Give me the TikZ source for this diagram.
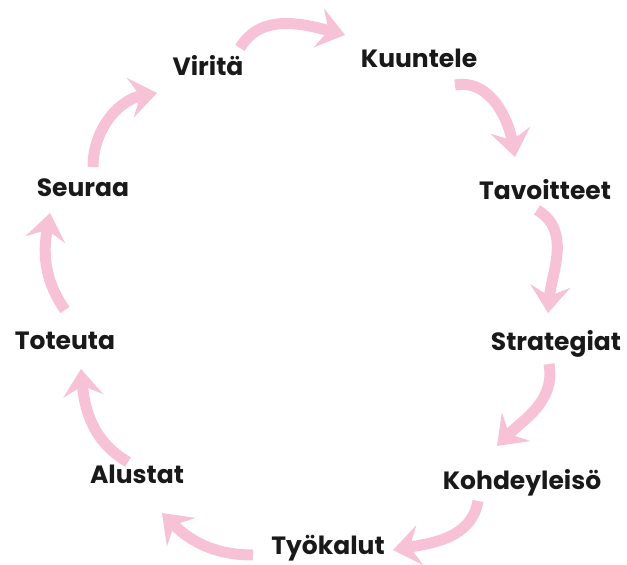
\documentclass[tikz,border=0pt]{standalone}
\usepackage{fontspec}
\setmainfont{Poppins}[BoldFont={* Bold}]
\usepackage{xcolor}
\usetikzlibrary{arrows.meta}
\definecolor{rosa}{RGB}{248,194,214}
\tikzset{lbl/.style={inner sep=0pt, font=\fontsize{25}{30}\selectfont\bfseries, text=black!90},
	arr/.style={rosa, line width=11pt, -{Stealth[length=27pt, width=40pt, inset=10pt]}}}

\begin{document}
\begin{tikzpicture}[x=1pt, y=1pt]
		\useasboundingbox (0,0) rectangle (627,565);
		\node[lbl] (vir) at (208,499) {Viritä};
		\node[lbl] (kuu) at (419,507) {Kuuntele};
		\node[lbl] (tav) at (545,375) {Tavoitteet};
		\node[lbl] (str) at (556,221) {Strategiat};
		\node[lbl] (koh) at (522,82) {Kohdeyleisö};
		\node[lbl] (tyo) at (328,17) {Työkalut};
		\node[lbl] (alu) at (137,91) {Alustat};
		\node[lbl] (tot) at (65,224) {Toteuta};
		\node[lbl] (seu) at (83,377) {Seuraa};
		% kierros myötäpäivään
		\draw[arr] ([shift={(32,18)}]vir.center) to[out=60, in=165] ([shift={(-74,23)}]kuu.center);
		\draw[arr] ([shift={(36,-27)}]kuu.center) to[out=10, in=100] ([shift={(-30,33)}]tav.center);
		\draw[arr] ([shift={(-8,-20)}]tav.center) to[out=-30, in=85] ([shift={(-8,31)}]str.center);
		\draw[arr] ([shift={(-7,-20)}]str.center) to[out=-80, in=45] ([shift={(-25,37)}]koh.center);
		\draw[arr] ([shift={(-44,-18)}]koh.center) to[out=-100, in=10] ([shift={(65,-2)}]tyo.center);
		\draw[arr] ([shift={(-75,-7)}]tyo.center) to[out=180, in=-45] ([shift={(25,-39)}]alu.center);
		\draw[arr] ([shift={(-9,12)}]alu.center) to[out=150, in=-85] ([shift={(16,-28)}]tot.center);
		\draw[arr] ([shift={(0,31)}]tot.center) to[out=125, in=-100] ([shift={(-33,-25)}]seu.center);
		\draw[arr] ([shift={(10,21)}]seu.center) to[out=90, in=190] ([shift={(-51,-27)}]vir.center);
	\end{tikzpicture}
\end{document}
